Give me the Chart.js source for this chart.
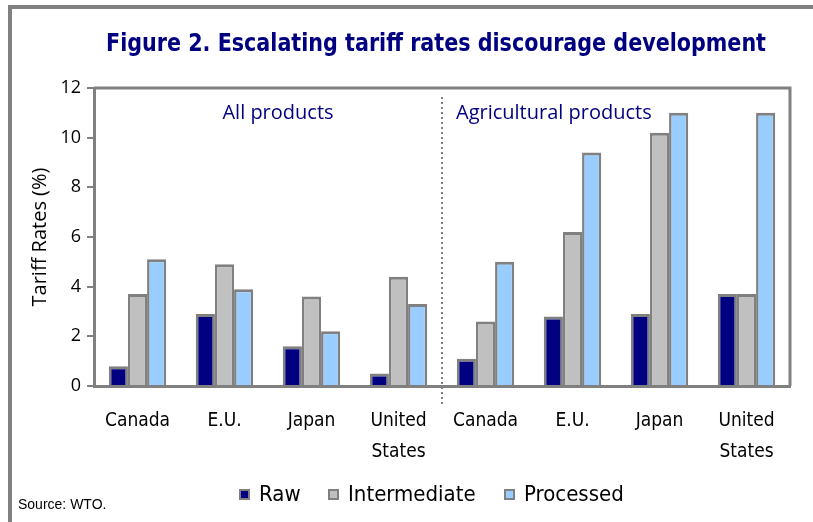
<!DOCTYPE html>
<html>
<head>
<meta charset="utf-8">
<script src="https://cdn.jsdelivr.net/npm/chart.js@4/dist/chart.umd.min.js"></script>
<style>
  html, body { margin: 0; padding: 0; background: #ffffff; }
  #wrap { position: relative; width: 813px; height: 522px; }
</style>
</head>
<body>
<div id="wrap"><canvas id="c" width="813" height="522"></canvas></div>
<script>
// Tariff rates by country, first four: all products, last four: agricultural products
const categories = [
  ["Canada"], ["E.U."], ["Japan"], ["United", "States"],
  ["Canada"], ["E.U."], ["Japan"], ["United", "States"]
];
const rawRates          = [0.8, 2.9, 1.6, 0.5, 1.1, 2.8, 2.9, 3.7];
const intermediateRates = [3.7, 4.9, 3.6, 4.4, 2.6, 6.2, 10.2, 3.7];
const processedRates    = [5.1, 3.9, 2.2, 3.3, 5.0, 9.4, 11.0, 11.0];
const yTicks = [0, 2, 4, 6, 8, 10, 12];
const panelLabels = ["All products", "Agricultural products"];
const seriesNames = ["Raw", "Intermediate", "Processed"];
const titleText = "Figure 2. Escalating tariff rates discourage development";
const sourceText = "Source: WTO.";

const NAVY = "#000080";
const GREY = "#808080";
const NARROW = "'DejaVu Sans Condensed', 'Liberation Sans Narrow', sans-serif";
const HUMAN = "'Open Sans', 'DejaVu Sans', sans-serif";

// draws text squeezed horizontally to a target width
function fitText(ctx, text, cx, cy, width) {
  const w = ctx.measureText(text).width;
  const s = Math.min(1, width / w);
  ctx.save();
  ctx.translate(cx, cy);
  ctx.scale(s, 1);
  ctx.fillText(text, 0, 0);
  ctx.restore();
}

const decorations = {
  id: "decorations",
  beforeDraw(chart) {
    const ctx = chart.ctx;
    ctx.save();
    ctx.fillStyle = "#ffffff";
    ctx.fillRect(0, 0, chart.width, chart.height);
    // outer frame (top and left edges)
    ctx.fillStyle = GREY;
    ctx.fillRect(8, 5, chart.width - 8, 4);
    ctx.fillRect(8, 5, 4, chart.height - 5);

    // title
    ctx.fillStyle = NAVY;
    ctx.font = "bold 25px " + NARROW;
    ctx.textAlign = "center";
    ctx.textBaseline = "middle";
    fitText(ctx, titleText, 436, 44, 660);
    ctx.restore();
  },
  afterDatasetsDraw(chart) {
    const ctx = chart.ctx;
    const a = chart.chartArea;
    const x = chart.scales.x;
    ctx.save();
    // top and right edges of the plot box
    ctx.strokeStyle = GREY;
    ctx.lineWidth = 3;
    ctx.beginPath();
    ctx.moveTo(a.left, a.top);
    ctx.lineTo(a.right, a.top);
    ctx.lineTo(a.right, a.bottom);
    ctx.stroke();

    // dotted divider between the two panels
    const divX = (x.getPixelForValue(3) + x.getPixelForValue(4)) / 2;
    ctx.strokeStyle = GREY;
    ctx.lineWidth = 2;
    ctx.setLineDash([2, 3]);
    ctx.beginPath();
    ctx.moveTo(divX, a.top + 9);
    ctx.lineTo(divX, a.bottom + 20);
    ctx.stroke();
    ctx.setLineDash([]);

    // panel labels
    ctx.fillStyle = NAVY;
    ctx.font = "20px " + HUMAN;
    ctx.textBaseline = "middle";
    ctx.textAlign = "center";
    ctx.fillText(panelLabels[0], 278, a.top + 25);
    ctx.textAlign = "left";
    ctx.fillText(panelLabels[1], divX + 14, a.top + 25);

    // legend
    const items = chart.data.datasets;
    const legendX = [239, 328, 504];
    const ly = 495;
    ctx.font = "22px " + NARROW;
    items.forEach((ds, i) => {
      const bx = legendX[i];
      ctx.fillStyle = GREY;
      ctx.fillRect(bx, ly - 6, 11, 11);
      ctx.fillStyle = ds.backgroundColor;
      ctx.fillRect(bx + 2, ly - 4, 7, 7);
      ctx.fillStyle = "#000000";
      ctx.textAlign = "left";
      ctx.textBaseline = "middle";
      ctx.fillText(ds.label, bx + 20, ly);
    });

    // source note
    ctx.font = "14px 'Liberation Sans', Arial, sans-serif";
    ctx.fillStyle = "#000000";
    ctx.textBaseline = "alphabetic";
    ctx.fillText(sourceText, 18, 509);
    ctx.restore();
  }
};

const barStyle = {
  borderColor: GREY,
  borderWidth: { top: 3, left: 2.5, right: 2.5, bottom: 0 },
  borderSkipped: "start",
  categoryPercentage: 0.66,
  barPercentage: 1.0
};

new Chart(document.getElementById("c"), {
  type: "bar",
  data: {
    labels: categories,
    datasets: [
      Object.assign({ label: seriesNames[0], data: rawRates, backgroundColor: "#000080" }, barStyle),
      Object.assign({ label: seriesNames[1], data: intermediateRates, backgroundColor: "#C0C0C0" }, barStyle),
      Object.assign({ label: seriesNames[2], data: processedRates, backgroundColor: "#99CCFF" }, barStyle)
    ]
  },
  options: {
    responsive: false,
    animation: false,
    devicePixelRatio: 1,
    layout: { autoPadding: false, padding: { top: 88, right: 23, left: 0, bottom: 56 } },
    plugins: {
      legend: { display: false },
      tooltip: { enabled: false },
      title: { display: false }
    },
    scales: {
      x: {
        grid: { display: false, drawTicks: false },
        border: { display: true, color: GREY, width: 3 },
        ticks: {
          color: "#000000",
          font: { family: NARROW, size: 19, lineHeight: 1.6 },
          padding: 20,
          maxRotation: 0,
          autoSkip: false
        },
        afterFit(scale) { scale.height = 80; }
      },
      y: {
        min: 0,
        max: 12,
        afterBuildTicks(scale) { scale.ticks = yTicks.map(v => ({ value: v })); },
        grid: { drawOnChartArea: false, drawTicks: true, tickLength: 7, tickColor: GREY, lineWidth: 2 },
        border: { display: true, color: GREY, width: 3 },
        ticks: {
          color: "#000000",
          font: { family: HUMAN, size: 18 },
          padding: 6
        },
        title: {
          display: true,
          text: "Tariff Rates (%)",
          color: "#000000",
          font: { family: HUMAN, size: 20 },
          padding: { top: 28, bottom: 0 }
        },
        afterFit(scale) { scale.width = 94; }
      }
    }
  },
  plugins: [decorations]
});
</script>
</body>
</html>
